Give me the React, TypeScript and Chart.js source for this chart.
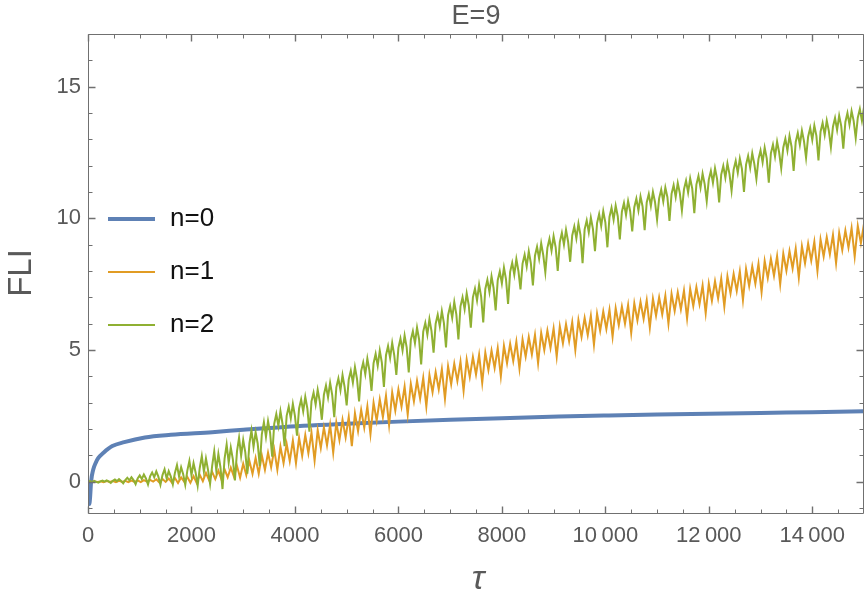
import React, { useEffect, useRef } from 'react';
import { Chart, registerables } from 'chart.js';

Chart.register(...registerables);

const chartTitle = 'E=9';
const xTitle = 'τ';
const yTitle = 'FLI';
const seriesNames = ['n=0', 'n=1', 'n=2'];
const seriesColors = ['#5E81B5', '#E19C24', '#8FB032'];

const xTickValues = [0, 2000, 4000, 6000, 8000, 10000, 12000, 14000];
const xTickLabels = ['0', '2000', '4000', '6000', '8000', '10\u2009000', '12\u2009000', '14\u2009000'];
const yTickValues = [0, 5, 10, 15];
const yTickLabels = ['0', '5', '10', '15'];

const xMin = 0;
const xMax = 15000;
const yMin = -1.19;
const yMax = 17;

// n=0
const blueTau = [0, 10, 25, 40, 60, 100, 150, 200, 300, 470, 700, 1100, 1600, 2400, 3000, 3800, 5000, 6000, 7000, 8000, 9100, 10000, 11000, 12000, 13000, 14000, 15000];
const blueValues = [0, -0.5, -0.85, -0.6, 0, 0.45, 0.72, 0.9, 1.1, 1.35, 1.5, 1.68, 1.78, 1.88, 1.97, 2.08, 2.2, 2.28, 2.35, 2.41, 2.47, 2.51, 2.55, 2.58, 2.61, 2.64, 2.67];

// n=1, sampled every 60 in tau
const orangeStep = 60;
const orangeValues = [
  0, -0.01, 0.01, -0.01, 0.01, -0.02, 0.02, -0.01, 0.02, -0.02,
  0.03, -0.01, 0.03, -0.02, 0.04, -0.01, 0.05, -0.02, 0.06, 0.0,
  0.07, 0.0, 0.09, -0.03, 0.1, -0.01, 0.12, -0.03, 0.14, -0.05,
  0.16, 0.0, 0.18, -0.04, 0.21, -0.05, 0.26, 0.02, 0.33, 0.06,
  0.37, 0.1, 0.42, 0.08, 0.47, 0.17, 0.53, 0.2, 0.6, 0.15,
  0.68, 0.25, 0.79, 0.3, 0.9, 0.3, 1.0, 0.45, 1.1, 0.55,
  1.22, 0.45, 1.33, 0.7, 1.44, 0.78, 1.56, 0.7, 1.67, 0.98,
  1.77, 1.08, 1.86, 0.8, 1.96, 1.28, 2.06, 1.38, 2.16, 1.1,
  2.25, 1.58, 2.35, 1.68, 2.46, 1.35, 2.6, 1.92, 2.73, 2.05,
  2.86, 1.8, 3.0, 2.32, 3.13, 2.45, 3.26, 2.15, 3.39, 2.7,
  3.5, 2.85, 3.61, 2.55, 3.72, 3.05, 3.83, 3.15, 3.94, 2.85,
  4.05, 3.4, 4.16, 3.5, 4.27, 3.15, 4.38, 3.7, 4.48, 3.82,
  4.56, 3.45, 4.64, 3.98, 4.73, 4.07, 4.82, 3.75, 4.9, 4.24,
  4.98, 4.32, 5.07, 4.0, 5.16, 4.5, 5.24, 4.58, 5.32, 4.3,
  5.4, 4.75, 5.49, 4.83, 5.57, 4.5, 5.65, 5.0, 5.74, 5.08,
  5.82, 4.75, 5.9, 5.25, 5.98, 5.33, 6.06, 5.0, 6.14, 5.5,
  6.22, 5.57, 6.3, 5.2, 6.38, 5.73, 6.46, 5.8, 6.53, 5.5,
  6.59, 5.94, 6.65, 6.0, 6.71, 5.65, 6.77, 6.12, 6.83, 6.18,
  6.89, 5.85, 6.95, 6.3, 7.0, 6.35, 7.06, 6.0, 7.13, 6.48,
  7.19, 6.54, 7.26, 6.2, 7.32, 6.67, 7.39, 6.74, 7.45, 6.4,
  7.52, 6.87, 7.61, 6.96, 7.71, 6.65, 7.8, 7.15, 7.89, 7.24,
  7.99, 6.9, 8.08, 7.43, 8.17, 7.52, 8.27, 7.2, 8.38, 7.73,
  8.47, 7.82, 8.57, 7.5, 8.66, 8.01, 8.76, 8.1, 8.85, 7.75,
  8.94, 8.29, 9.04, 8.39, 9.11, 8.0, 9.2, 8.55, 9.28, 8.63,
  9.37, 8.3, 9.45, 8.8, 9.54, 8.89, 9.63, 8.55, 9.71, 9.06,
  9.8,
];

// n=2, sampled every 40 in tau
const greenStep = 40;
const greenValues = [
  0, 0.02, -0.02, 0.03, -0.01, -0.04,
  0.01, 0.04, 0, 0.05, 0.01, -0.05,
  0.03, 0.08, 0.02, 0.1, 0.03, -0.06,
  0.06, 0.15, 0.05, 0.17, 0.06, -0.1,
  0.12, 0.24, 0.1, 0.27, 0.12, -0.11,
  0.2, 0.35, 0.17, 0.39, 0.19, -0.12,
  0.25, 0.47, 0.12, 0.4, 0.2, -0.1,
  0.33, 0.63, 0.2, 0.55, 0.28, -0.12,
  0.42, 0.79, 0.25, 0.7, 0.35, -0.15,
  0.52, 0.97, 0.38, 0.88, 0.45, -0.08,
  0.6, 1.15, 0.42, 1.05, 0.55, -0.28,
  0.88, 1.41, 0.72, 1.3, 0.85, 0.05,
  1.15, 1.67, 0.98, 1.58, 1.12, 0.3,
  1.45, 1.95, 1.32, 1.88, 1.45, 0.6,
  1.8, 2.26, 1.7, 2.3, 1.85, 0.95,
  2.2, 2.57, 2.12, 2.68, 2.2, 1.35,
  2.5, 2.85, 2.4, 2.95, 2.5, 1.75,
  2.78, 3.12, 2.67, 3.22, 2.78, 1.9,
  3.05, 3.38, 2.93, 3.49, 3.05, 2.35,
  3.3, 3.65, 3.2, 3.76, 3.3, 2.45,
  3.58, 3.92, 3.47, 4.05, 3.6, 2.9,
  3.88, 4.21, 3.76, 4.35, 3.9, 3.05,
  4.2, 4.53, 4.08, 4.67, 4.22, 3.45,
  4.5, 4.85, 4.4, 4.98, 4.52, 3.6,
  4.8, 5.15, 4.7, 5.27, 4.8, 4.05,
  5.08, 5.43, 4.98, 5.55, 5.1, 4.15,
  5.38, 5.71, 5.26, 5.85, 5.4, 4.45,
  5.7, 6.03, 5.58, 6.17, 5.72, 4.9,
  6.0, 6.34, 5.9, 6.48, 6.02, 5.1,
  6.32, 6.66, 6.22, 6.82, 6.35, 5.4,
  6.66, 7.0, 6.55, 7.15, 6.7, 5.85,
  7.0, 7.33, 6.88, 7.48, 7.02, 6.05,
  7.32, 7.66, 7.2, 7.8, 7.35, 6.5,
  7.65, 7.98, 7.53, 8.13, 7.68, 6.75,
  7.97, 8.31, 7.86, 8.45, 8.0, 7.3,
  8.28, 8.62, 8.17, 8.75, 8.3, 7.45,
  8.58, 8.92, 8.47, 9.05, 8.6, 7.95,
  8.88, 9.22, 8.77, 9.32, 8.9, 8.0,
  9.1, 9.45, 9.0, 9.56, 9.12, 8.35,
  9.35, 9.69, 9.24, 9.8, 9.36, 8.3,
  9.58, 9.92, 9.47, 10.03, 9.6, 8.75,
  9.82, 10.16, 9.71, 10.27, 9.85, 8.9,
  10.05, 10.4, 9.95, 10.48, 10.08, 9.2,
  10.25, 10.58, 10.13, 10.66, 10.27, 9.5,
  10.42, 10.75, 10.3, 10.83, 10.45, 9.55,
  10.6, 10.92, 10.47, 11.0, 10.62, 9.95,
  10.76, 11.09, 10.64, 11.17, 10.8, 9.9,
  10.93, 11.26, 10.81, 11.34, 10.96, 10.3,
  11.1, 11.43, 10.98, 11.52, 11.13, 10.2,
  11.28, 11.61, 11.16, 11.7, 11.3, 10.65,
  11.47, 11.8, 11.35, 11.9, 11.5, 10.6,
  11.66, 11.99, 11.54, 12.08, 11.68, 11.05,
  11.85, 12.18, 11.73, 12.27, 11.88, 11.0,
  12.04, 12.37, 11.92, 12.47, 12.07, 11.5,
  12.25, 12.58, 12.13, 12.69, 12.28, 11.35,
  12.47, 12.8, 12.35, 12.91, 12.5, 11.9,
  12.69, 13.02, 12.57, 13.13, 12.72, 11.8,
  12.9, 13.24, 12.79, 13.33, 12.93, 12.3,
  13.1, 13.43, 12.98, 13.52, 13.13, 12.2,
  13.29, 13.62, 13.17, 13.71, 13.32, 12.7,
  13.48, 13.81, 13.36, 13.9, 13.5, 12.65,
  13.66, 14.0, 13.55, 14.07, 13.7, 13.05,
  13.82, 14.15, 13.7, 14.22, 13.85, 13.0,
];

const FONT = "'Liberation Sans', Arial, sans-serif";
const LABEL_GRAY = '#595959';
const FRAME_GRAY = '#707070';

const framePlugin = {
  id: 'mmaFrame',
  afterDraw(chart: any) {
    const { ctx, chartArea: a, scales } = chart;
    const xs = scales.x;
    const ys = scales.y;
    ctx.save();
    ctx.strokeStyle = FRAME_GRAY;
    ctx.lineWidth = 1;
    const L = Math.round(a.left) + 0.5;
    const R = Math.round(a.right) - 0.5;
    const T = Math.round(a.top) + 0.5;
    const B = Math.round(a.bottom) + 0.5;
    ctx.beginPath();
    ctx.moveTo(L, T); ctx.lineTo(R, T); ctx.lineTo(R, B); ctx.lineTo(L, B); ctx.closePath();
    ctx.stroke();

    // x ticks (major every 2000, minor every 500)
    for (let v = xMin; v <= xMax; v += 500) {
      const major = v % 2000 === 0;
      const len = major ? 7 : 4;
      const px = Math.round(xs.getPixelForValue(v)) + 0.5;
      ctx.lineWidth = major ? 1.4 : 1;
      ctx.beginPath();
      ctx.moveTo(px, B); ctx.lineTo(px, B - len);
      ctx.moveTo(px, T); ctx.lineTo(px, T + len);
      ctx.stroke();
    }
    // y ticks (major every 5, minor every 1)
    for (let v = -1; v <= 17; v += 1) {
      const major = v % 5 === 0;
      const len = major ? 7 : 4;
      const py = Math.round(ys.getPixelForValue(v)) + 0.5;
      ctx.lineWidth = major ? 1.4 : 1;
      ctx.beginPath();
      ctx.moveTo(L, py); ctx.lineTo(L + len, py);
      ctx.moveTo(R, py); ctx.lineTo(R - len, py);
      ctx.stroke();
    }

    // Titles
    ctx.fillStyle = LABEL_GRAY;
    ctx.textAlign = 'center';
    ctx.textBaseline = 'middle';
    ctx.font = `27px ${FONT}`;
    ctx.fillText(chartTitle, (a.left + a.right) / 2, 17);

    ctx.font = `italic 34px ${FONT}`;
    ctx.fillText(xTitle, 478, 580);

    ctx.save();
    ctx.translate(22, 273);
    ctx.rotate(-Math.PI / 2);
    ctx.font = `33px ${FONT}`;
    ctx.fillText(yTitle, 0, 0);
    ctx.restore();

    // Legend
    const rows = [219, 272, 325];
    const widths = [4, 2, 2];
    ctx.textAlign = 'left';
    ctx.font = `26px ${FONT}`;
    for (let i = 0; i < seriesNames.length; i++) {
      ctx.strokeStyle = seriesColors[i];
      ctx.lineWidth = widths[i];
      ctx.beginPath();
      ctx.moveTo(108, rows[i]);
      ctx.lineTo(155, rows[i]);
      ctx.stroke();
      ctx.fillStyle = '#111111';
      ctx.fillText(seriesNames[i], 170, rows[i]);
    }
    ctx.restore();
  },
};

export default function App() {
  const canvasRef = useRef<HTMLCanvasElement | null>(null);

  useEffect(() => {
    if (!canvasRef.current) return;
    const chart = new Chart(canvasRef.current, {
      type: 'line',
      data: {
        datasets: [
          {
            label: seriesNames[0],
            data: blueTau.map((x, i) => ({ x, y: blueValues[i] })),
            borderColor: seriesColors[0],
            borderWidth: 4,
            pointRadius: 0,
            cubicInterpolationMode: 'monotone',
            order: 2,
          },
          {
            label: seriesNames[1],
            data: orangeValues.map((y, i) => ({ x: i * orangeStep, y })),
            borderColor: seriesColors[1],
            borderWidth: 2,
            pointRadius: 0,
            order: 1,
          },
          {
            label: seriesNames[2],
            data: greenValues.map((y, i) => ({ x: i * greenStep, y })),
            borderColor: seriesColors[2],
            borderWidth: 2,
            pointRadius: 0,
            order: 0,
          },
        ],
      },
      options: {
        animation: false,
        responsive: false,
        devicePixelRatio: 1,
        layout: { padding: { left: 0, right: 0, top: 34, bottom: 0 } },
        plugins: { legend: { display: false }, tooltip: { enabled: false } },
        scales: {
          x: {
            type: 'linear',
            min: xMin,
            max: xMax,
            grid: { display: false, drawTicks: false },
            border: { display: false },
            afterBuildTicks: (s: any) => {
              s.ticks = xTickValues.map((v) => ({ value: v }));
            },
            afterFit: (s: any) => {
              s.height = 88;
            },
            ticks: {
              autoSkip: false,
              maxRotation: 0,
              padding: 10,
              color: LABEL_GRAY,
              font: { family: FONT, size: 22 },
              callback: (_v: any, i: number) => xTickLabels[i],
            },
          },
          y: {
            type: 'linear',
            min: yMin,
            max: yMax,
            grid: { display: false, drawTicks: false },
            border: { display: false },
            afterBuildTicks: (s: any) => {
              s.ticks = yTickValues.map((v) => ({ value: v }));
            },
            afterFit: (s: any) => {
              s.width = 88;
            },
            ticks: {
              autoSkip: false,
              padding: 7,
              color: LABEL_GRAY,
              font: { family: FONT, size: 22 },
              callback: (_v: any, i: number) => yTickLabels[i],
            },
          },
        },
      } as any,
      plugins: [framePlugin],
    });
    return () => chart.destroy();
  }, []);

  return (
    <div style={{ position: 'fixed', left: 0, top: 0, width: 864, height: 601, background: '#ffffff' }}>
      <canvas ref={canvasRef} width={864} height={601} style={{ width: 864, height: 601 }} />
    </div>
  );
}
